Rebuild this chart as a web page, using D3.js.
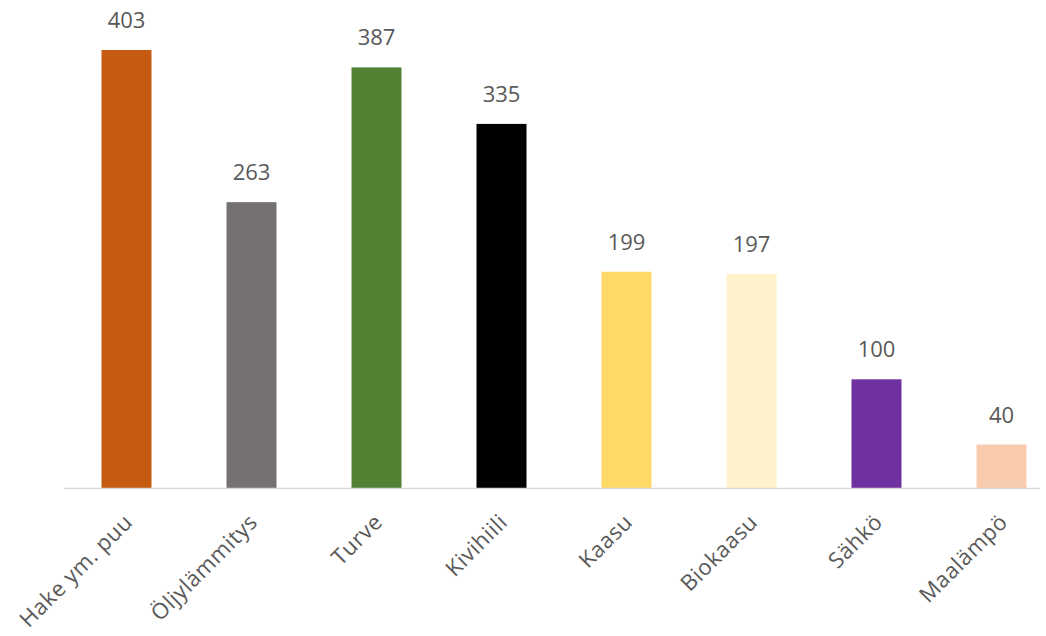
<!DOCTYPE html>
<html>
<head>
<meta charset="utf-8">
<script src="https://cdnjs.cloudflare.com/ajax/libs/d3/7.8.5/d3.min.js"></script>
<style>
  body { margin: 0; background: #fff; }
  .valLabel { font-family: "Open Sans", sans-serif; font-size: 22px; fill: #595959; }
  .catLabel { font-family: "Open Sans", sans-serif; font-size: 22px; fill: #595959; letter-spacing: 0.6px; }
</style>
</head>
<body>
<div id="chart"></div>
<script>
var categories = ["Hake ym. puu", "Öljylämmitys", "Turve", "Kivihiili", "Kaasu", "Biokaasu", "Sähkö", "Maalämpö"];
var values = [403, 263, 387, 335, 199, 197, 100, 40];
var colors = ["#C55A11", "#767171", "#548235", "#000000", "#FFD966", "#FFF2CC", "#7030A0", "#F8CBAD"];

var width = 1046;
var height = 636;

var left = 64, right = 1064;
var baseY = 488;
var topY = 50;

var svg = d3.select("#chart")
  .append("svg")
  .attr("width", width)
  .attr("height", height);

var xScale = d3.scaleBand()
  .domain(categories)
  .range([left, right])
  .paddingInner(0.6)
  .paddingOuter(0.3);

var yScale = d3.scaleLinear()
  .domain([0, 403])
  .range([baseY, topY]);

var data = categories.map(function(c, i) {
  return { cat: c, val: values[i], color: colors[i] };
});

// bars
svg.selectAll("rect.bar")
  .data(data)
  .enter()
  .append("rect")
  .attr("class", "bar")
  .attr("x", function(d) { return xScale(d.cat); })
  .attr("y", function(d) { return yScale(d.val); })
  .attr("width", xScale.bandwidth())
  .attr("height", function(d) { return baseY - yScale(d.val); })
  .attr("fill", function(d) { return d.color; });

// axis line
svg.append("line")
  .attr("x1", left)
  .attr("x2", 1040)
  .attr("y1", baseY + 0.5)
  .attr("y2", baseY + 0.5)
  .attr("stroke", "#D9D9D9")
  .attr("stroke-width", 1.5);

// value labels
svg.selectAll("text.valLabel")
  .data(data)
  .enter()
  .append("text")
  .attr("class", "valLabel")
  .attr("x", function(d) { return xScale(d.cat) + xScale.bandwidth() / 2; })
  .attr("y", function(d) { return yScale(d.val) - 22; })
  .attr("text-anchor", "middle")
  .text(function(d) { return d.val; });

// category labels, rotated
svg.selectAll("text.catLabel")
  .data(data)
  .enter()
  .append("text")
  .attr("class", "catLabel")
  .attr("text-anchor", "end")
  .attr("transform", function(d) {
    var cx = xScale(d.cat) + xScale.bandwidth() / 2 + 2;
    return "translate(" + cx + "," + (baseY + 30) + ")rotate(-45)";
  })
  .attr("dy", "0.35em")
  .text(function(d) { return d.cat; });
</script>
</body>
</html>
